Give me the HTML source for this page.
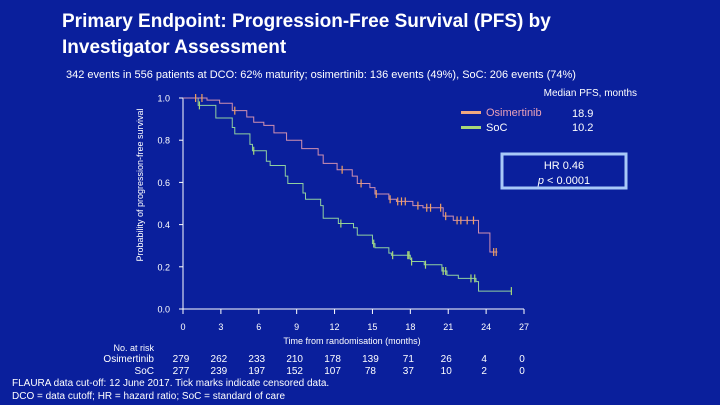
<!DOCTYPE html>
<html><head><meta charset="utf-8"><style>
body{margin:0;width:720px;height:405px;overflow:hidden;background:#0a1f9c;font-family:"Liberation Sans",sans-serif}
svg{display:block}
</style></head><body>
<svg id="c" width="720" height="405" xmlns="http://www.w3.org/2000/svg">
<rect width="720" height="405" fill="#0a1f9c"/>
<text x="62" y="27" font-size="19" font-weight="bold" fill="#fff">Primary Endpoint: Progression-Free Survival (PFS) by</text>
<text x="62" y="53" font-size="19" font-weight="bold" fill="#fff">Investigator Assessment</text>
<text x="66" y="78" font-size="11" fill="#fff">342 events in 556 patients at DCO: 62% maturity; osimertinib: 136 events (49%), SoC: 206 events  (74%)</text>
<text transform="translate(143,185) rotate(-90)" text-anchor="middle" font-size="9" fill="#fff">Probability of progression-free survival</text>
<text x="637" y="96" text-anchor="end" font-size="10" fill="#fff">Median PFS, months</text>
<rect x="461" y="111" width="20" height="3" fill="#f0a880"/>
<text x="486" y="116" font-size="11" fill="#e8a0b8">Osimertinib</text>
<text x="572" y="117" font-size="11" fill="#fff">18.9</text>
<rect x="461" y="126" width="20" height="3" fill="#a8d878"/>
<text x="486" y="131" font-size="11" fill="#fff">SoC</text>
<text x="572" y="131" font-size="11" fill="#fff">10.2</text>
<rect x="502" y="154" width="124" height="34" fill="none" stroke="#a8c8f8" stroke-width="3"/>
<text x="564" y="169" text-anchor="middle" font-size="11" fill="#fff">HR 0.46</text>
<text x="564" y="184" text-anchor="middle" font-size="11" fill="#fff"><tspan font-style="italic">p</tspan> &lt; 0.0001</text>
<g id="axes"></g><g id="plot"></g>
<text x="352" y="344" text-anchor="middle" font-size="9" fill="#fff">Time from randomisation (months)</text>
<text x="154" y="351" text-anchor="end" font-size="9" fill="#fff">No. at risk</text>
<text x="154" y="362" text-anchor="end" font-size="10" fill="#fff">Osimertinib</text>
<text x="154" y="374" text-anchor="end" font-size="10" fill="#fff">SoC</text>
<text x="12" y="386" font-size="10" fill="#fff">FLAURA data cut-off: 12 June 2017. Tick marks indicate censored data.</text>
<text x="12" y="399" font-size="10" fill="#fff">DCO = data cutoff; HR = hazard ratio; SoC = standard of care</text>
</svg>
<script>
const xTicks=[0,3,6,9,12,15,18,21,24,27];
const yTicks=[0,0.2,0.4,0.6,0.8,1.0];
const osiT=[0,1.9,2.9,3.9,5.05,5.6,6.4,7.2,8.2,9.4,10.7,11.1,12.2,13.4,13.8,14.8,15.2,16.3,16.9,18.2,19.0,20.6,21.4,23.4,24.3];
const osiS=[1.0,0.99,0.975,0.94,0.91,0.885,0.87,0.835,0.80,0.76,0.73,0.69,0.66,0.63,0.595,0.575,0.545,0.52,0.51,0.49,0.48,0.44,0.42,0.36,0.27];
const osiEnd=24.9;
const osiCens=[1.0,1.5,4.1,12.6,14.1,15.3,16.4,17.0,17.3,17.6,18.6,19.3,19.6,20.4,20.8,21.7,22.0,22.5,23.0,24.6,24.8];
const socT=[0,1.2,2.6,3.9,4.1,5.3,5.5,6.6,6.9,8.1,8.3,9.5,9.7,10.9,11.1,12.3,13.5,13.8,15.0,15.2,16.3,16.5,18.0,18.1,19.1,20.5,20.9,21.8,23.2,23.4];
const socS=[1.0,0.965,0.905,0.86,0.83,0.78,0.75,0.70,0.68,0.63,0.595,0.55,0.52,0.49,0.43,0.405,0.385,0.35,0.31,0.29,0.265,0.255,0.235,0.225,0.21,0.18,0.16,0.145,0.13,0.085];
const socEnd=26.0;
const socCens=[1.3,5.6,12.5,15.1,16.6,17.8,17.9,18.1,19.2,20.6,20.8,22.8,23.1,26.0];
const osiRisk=[279,262,233,210,178,139,71,26,4,0];
const socRisk=[277,239,197,152,107,78,37,10,2,0];
const X=t=>183+t*(524-183)/27, Y=s=>309-s*211;
const NS="http://www.w3.org/2000/svg";
function mk(tag,at,par){const e=document.createElementNS(NS,tag);for(const k in at)e.setAttribute(k,at[k]);par.appendChild(e);return e;}
const ax=document.getElementById('axes'),pl=document.getElementById('plot');
let e=mk('line',{x1:183,y1:98,x2:183,y2:309,stroke:'#fff','stroke-width':1},ax);


e=mk('line',{x1:183,y1:309,x2:524,y2:309,stroke:'#fff','stroke-width':1},ax);


yTicks.forEach(v=>{mk('line',{x1:179,x2:183,y1:Y(v),y2:Y(v),stroke:'#fff'},ax);
 const t=mk('text',{x:170,y:Y(v)+3.5,'text-anchor':'end','font-size':9,fill:'#fff'},ax);t.textContent=v.toFixed(1);
 
 });
xTicks.forEach((v,i)=>{mk('line',{x1:X(v),x2:X(v),y1:309,y2:314,stroke:'#fff'},ax);
 const t=mk('text',{x:X(v),y:330,'text-anchor':'middle','font-size':9,fill:'#fff'},ax);t.textContent=v;
 
 
 const a=mk('text',{x:X(v)-2,y:362,'text-anchor':'middle','font-size':10,fill:'#fff'},ax);a.textContent=osiRisk[i];
 
 
 const b=mk('text',{x:X(v)-2,y:374,'text-anchor':'middle','font-size':10,fill:'#fff'},ax);b.textContent=socRisk[i];
 
 });
function stepVal(T,S,t){let s=S[0];for(let i=0;i<T.length;i++)if(T[i]<=t)s=S[i];return s;}
function curve(T,S,end,cens,col,mcol,name){
 let d='M'+X(T[0])+','+Y(S[0]);
 for(let i=1;i<T.length;i++)d+=' H'+X(T[i])+' V'+Y(S[i]);
 d+=' H'+X(end);
 const p=mk('path',{d:d,fill:'none',stroke:col,'stroke-width':1},pl);
 
 
 cens.forEach(c=>{const y=Y(stepVal(T,S,c));
  const m=mk('line',{x1:X(c),x2:X(c),y1:y-4,y2:y+4,stroke:mcol,'stroke-width':1.2},pl);
  
  });
}
curve(socT,socS,socEnd,socCens,'#90d0a0','#a8d878','soc');
curve(osiT,osiS,osiEnd,osiCens,'#d090b0','#f0a060','osimertinib');
</script>
</body></html>
